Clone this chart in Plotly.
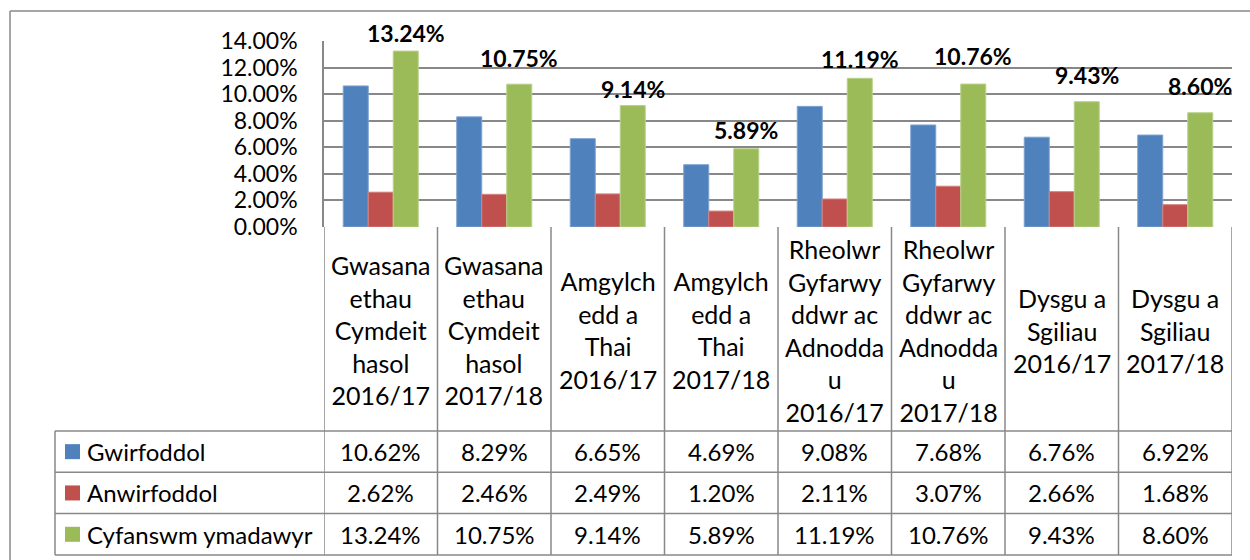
import plotly.graph_objects as go

# Departments and years (full names, used as the x categories)
categories = [
    "Gwasanaethau Cymdeithasol 2016/17",
    "Gwasanaethau Cymdeithasol 2017/18",
    "Amgylchedd a Thai 2016/17",
    "Amgylchedd a Thai 2017/18",
    "Rheolwr Gyfarwyddwr ac Adnoddau 2016/17",
    "Rheolwr Gyfarwyddwr ac Adnoddau 2017/18",
    "Dysgu a Sgiliau 2016/17",
    "Dysgu a Sgiliau 2017/18",
]
# Wrapped header text shown in the data-table header cells
category_labels = [
    "Gwasana<br>ethau<br>Cymdeit<br>hasol<br>2016/17",
    "Gwasana<br>ethau<br>Cymdeit<br>hasol<br>2017/18",
    "Amgylch<br>edd a<br>Thai<br>2016/17",
    "Amgylch<br>edd a<br>Thai<br>2017/18",
    "Rheolwr<br>Gyfarwy<br>ddwr ac<br>Adnodda<br>u<br>2016/17",
    "Rheolwr<br>Gyfarwy<br>ddwr ac<br>Adnodda<br>u<br>2017/18",
    "Dysgu a<br>Sgiliau<br>2016/17",
    "Dysgu a<br>Sgiliau<br>2017/18",
]

series_names = ["Gwirfoddol", "Anwirfoddol", "Cyfanswm ymadawyr"]
gwirfoddol = [0.1062, 0.0829, 0.0665, 0.0469, 0.0908, 0.0768, 0.0676, 0.0692]
anwirfoddol = [0.0262, 0.0246, 0.0249, 0.0120, 0.0211, 0.0307, 0.0266, 0.0168]
cyfanswm = [0.1324, 0.1075, 0.0914, 0.0589, 0.1119, 0.1076, 0.0943, 0.0860]
series_values = [gwirfoddol, anwirfoddol, cyfanswm]

y_ticks = [0.00, 0.02, 0.04, 0.06, 0.08, 0.10, 0.12, 0.14]

# Styling
colors = ["#4F81BD", "#C0504D", "#9BBB59"]
edge_colors = ["#7FA3D0", "#D58280", "#B9D08A"]
grid_color = "#888888"
FONT = "Lato"
FS_NUM = 23     # numbers (ticks, totals)
FS_TXT = 25     # header words
FS_ROW = 24     # table rows (legend names, values)
W, H = 1250, 560

# pixel -> paper helpers for the layout frame
def px(p):
    return p / W

def py(p):
    return 1 - p / H

# layout frame (pixels)
plot_left, plot_right = 324, 1232
plot_top, plot_bottom = 41, 227
table_rows = [431, 472.3, 513.6, 555]
legend_left = 55
# vertical offsets (px) of the bold total labels above their bars
total_label_lift = [18, 26, 17, 19, 19, 28, 27, 27]

fig = go.Figure()
for name, vals, col, edge in zip(series_names, series_values, colors, edge_colors):
    fig.add_trace(go.Bar(
        x=categories, y=vals, name=name,
        marker=dict(color=col, line=dict(color=edge, width=1)),
        showlegend=False, hoverinfo="x+y",
    ))

annotations = []
shapes = []

# bold total labels over the green bars
bar_w = (plot_right - plot_left) / len(categories) * (1 - 0.339) / 3
for cat, v, lift in zip(categories, cyfanswm, total_label_lift):
    annotations.append(dict(
        x=cat, y=v, xref="x", yref="y", xshift=bar_w, yshift=lift,
        text=f"<b>{v*100:.2f}%</b>", showarrow=False,
        xanchor="center", yanchor="middle",
        font=dict(family=FONT, size=FS_NUM, color="black"),
    ))

# header cells with wrapped category names
header_mid = (plot_bottom + table_rows[0]) / 2 + 1
for cat, lab in zip(categories, category_labels):
    annotations.append(dict(
        x=cat, y=py(header_mid), xref="x", yref="paper",
        text=lab, showarrow=False, xanchor="center", yanchor="middle",
        align="center", font=dict(family=FONT, size=FS_TXT, color="black"),
    ))

# data rows: legend key + values
for r, (name, vals, col) in enumerate(zip(series_names, series_values, colors)):
    top, bot = table_rows[r], table_rows[r + 1]
    mid = (top + bot) / 2
    shapes.append(dict(type="rect", xref="paper", yref="paper",
                       x0=px(65), x1=px(80), y0=py(mid - 7.5), y1=py(mid + 7.5),
                       fillcolor=col, line=dict(width=0)))
    annotations.append(dict(
        x=px(85), y=py(mid), xref="paper", yref="paper", text=name,
        showarrow=False, xanchor="left", yanchor="middle",
        font=dict(family=FONT, size=FS_ROW, color="black"),
    ))
    for cat, v in zip(categories, vals):
        annotations.append(dict(
            x=cat, y=py(mid), xref="x", yref="paper", text=f"{v*100:.2f}%",
            showarrow=False, xanchor="center", yanchor="middle",
            font=dict(family=FONT, size=FS_ROW, color="black"),
        ))

line = dict(color=grid_color, width=1.5)
# column dividers of the table (in category units)
for i in range(len(categories) + 1):
    shapes.append(dict(type="line", xref="x", yref="paper",
                       x0=i - 0.5, x1=i - 0.5,
                       y0=py(plot_bottom), y1=py(table_rows[-1]), line=line))
# row dividers of the table
for yy in table_rows:
    shapes.append(dict(type="line", xref="paper", yref="paper",
                       x0=px(legend_left), x1=px(plot_right),
                       y0=py(yy), y1=py(yy), line=line))
shapes.append(dict(type="line", xref="paper", yref="paper",
                   x0=px(legend_left), x1=px(legend_left),
                   y0=py(table_rows[0]), y1=py(table_rows[-1]), line=line))
# outer chart frame
shapes.append(dict(type="line", xref="paper", yref="paper",
                   x0=px(10), x1=px(10), y0=py(11), y1=0, line=line))
shapes.append(dict(type="line", xref="paper", yref="paper",
                   x0=px(10), x1=1, y0=py(11), y1=py(11), line=line))

fig.update_layout(
    width=W, height=H,
    margin=dict(l=0, r=0, t=0, b=0, pad=0, autoexpand=False),
    paper_bgcolor="white", plot_bgcolor="white",
    barmode="group", bargap=0.339, bargroupgap=0,
    font=dict(family=FONT, size=FS_NUM, color="black"),
    xaxis=dict(domain=[px(plot_left), px(plot_right)], showticklabels=False,
               showgrid=False, zeroline=False, showline=False, automargin=False,
               range=[-0.5, len(categories) - 0.5], fixedrange=True),
    yaxis=dict(domain=[py(plot_bottom), py(plot_top)], range=[0, 0.14],
               tickvals=y_ticks, tickformat=".2%", showgrid=True,
               gridcolor=grid_color, gridwidth=1.5, zeroline=False,
               showline=True, linecolor=grid_color, linewidth=1.5,
               ticks="", ticklabelstandoff=20, automargin=False,
               tickfont=dict(family=FONT, size=FS_NUM, color="black"), fixedrange=True),
    annotations=annotations, shapes=shapes,
)

fig.write_html("out.html")
